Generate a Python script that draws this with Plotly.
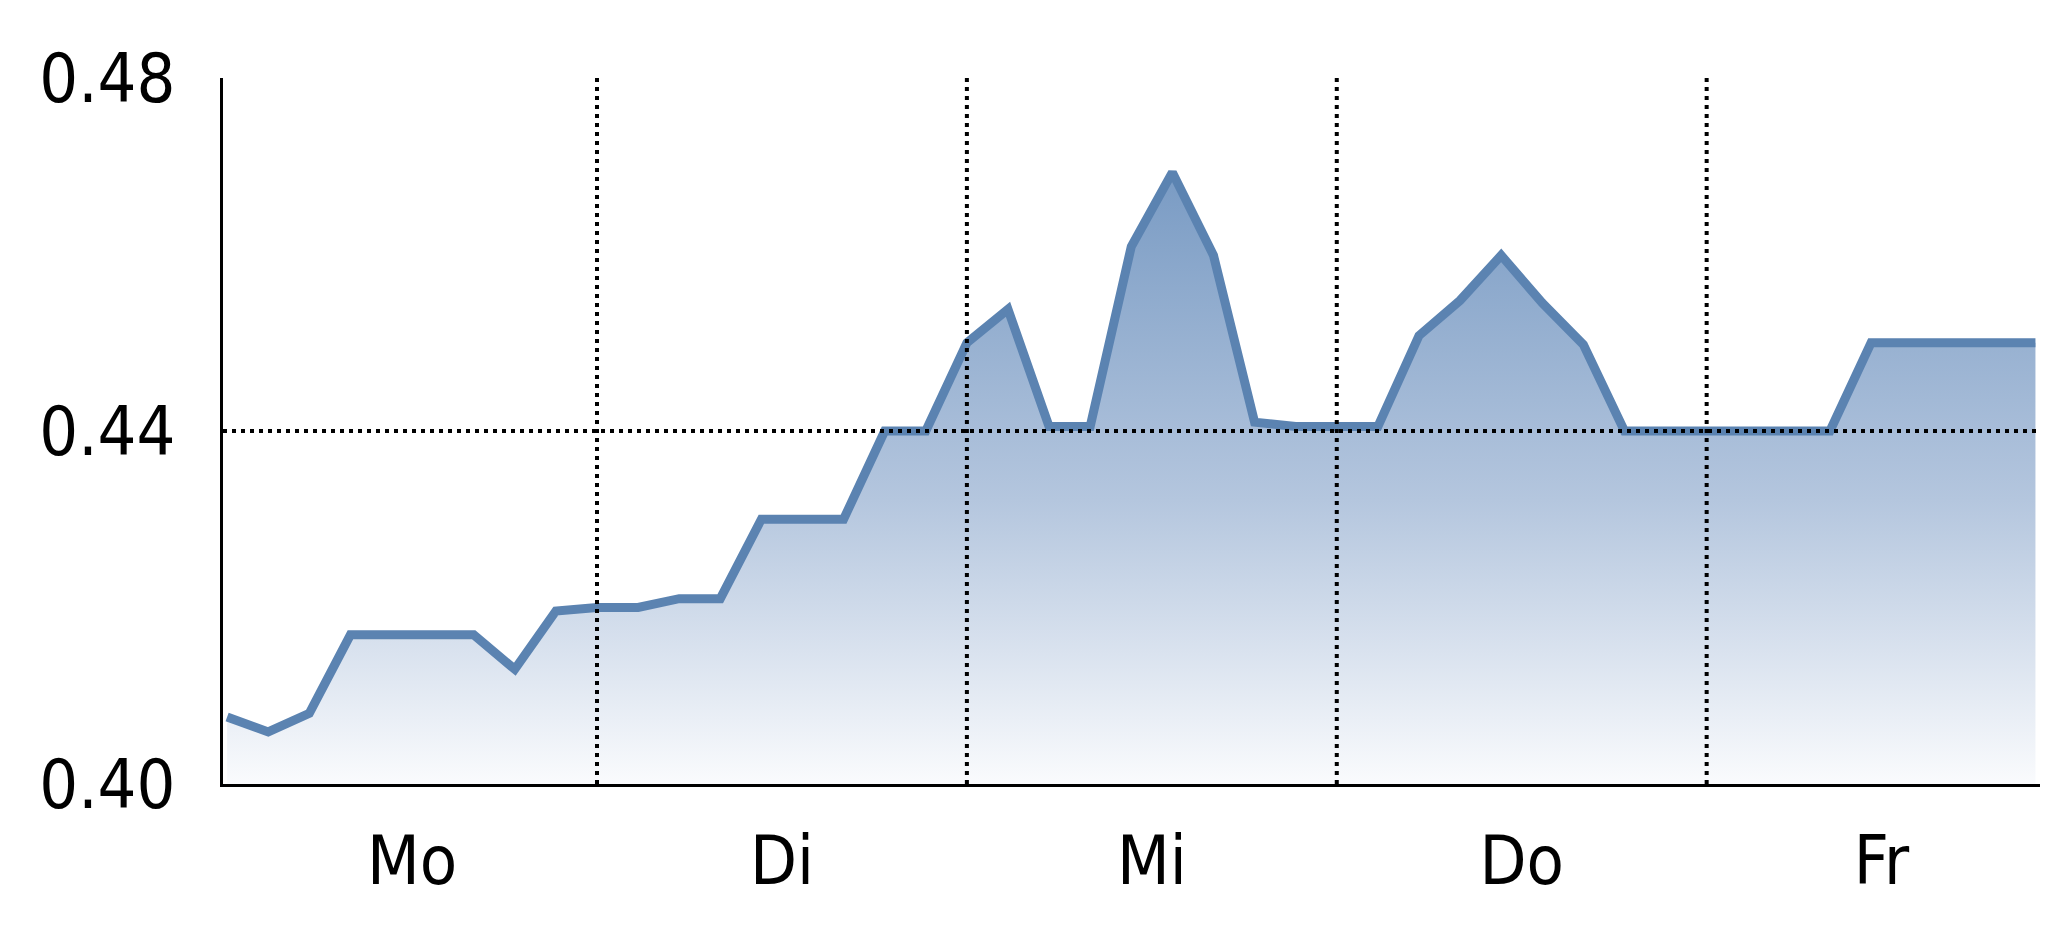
import plotly.graph_objects as go

DAYS = ["Mo", "Di", "Mi", "Do", "Fr"]
POINTS_PER_DAY = 9

# one value per step (9 per day)
VALUES = [
    0.4076, 0.4059, 0.4080, 0.4169, 0.4169, 0.4169, 0.4169, 0.4130, 0.4196,
    0.4200, 0.4200, 0.4210, 0.4210, 0.4300, 0.4300, 0.4300, 0.4400, 0.4400,
    0.4500, 0.4538, 0.4405, 0.4405, 0.4609, 0.4693, 0.4599, 0.4410, 0.4405,
    0.4405, 0.4405, 0.4508, 0.4548, 0.4599, 0.4545, 0.4498, 0.4400, 0.4400,
    0.4400, 0.4400, 0.4400, 0.4400, 0.4500, 0.4500, 0.4500, 0.4500, 0.4500,
]
Y_TICKS = [0.40, 0.44, 0.48]

X_MIN, X_MAX = -0.1, 44.5
Y_MIN, Y_MAX = 0.40, 0.48

LINE_COLOR = "#5b83b1"
FONT = "Liberation Sans Narrow, Arial Narrow, DejaVu Sans Condensed, sans-serif"

xs = list(range(len(VALUES)))
boundaries = [i * POINTS_PER_DAY for i in range(1, len(DAYS))]

# label each day in the middle of its visible band
tick_centres = []
for i in range(len(DAYS)):
    lo = max(i * POINTS_PER_DAY, X_MIN)
    hi = min((i + 1) * POINTS_PER_DAY, X_MAX)
    tick_centres.append((lo + hi) / 2)

fig = go.Figure()
fig.add_trace(
    go.Scatter(
        x=xs,
        y=VALUES,
        mode="lines",
        line={"color": LINE_COLOR, "width": 9},
        fill="tozeroy",
        fillgradient={
            "type": "vertical",
            "start": 0.40,
            "stop": 0.47,
            "colorscale": [
                [0.0, "rgb(250,251,253)"],
                [0.46, "rgb(180,198,222)"],
                [1.0, "rgb(120,154,195)"],
            ],
        },
        showlegend=False,
    )
)

dot = "4px,5px"
for b in boundaries:
    fig.add_shape(
        type="line", xref="x", yref="paper", x0=b, x1=b, y0=0, y1=1.005,
        line={"color": "black", "width": 4, "dash": dot}, layer="above",
    )
for t in Y_TICKS[1:-1]:
    fig.add_shape(
        type="line", xref="paper", yref="y", x0=0, x1=1, y0=t, y1=t,
        line={"color": "black", "width": 4, "dash": dot}, layer="above",
    )

# page body adds an 8px offset, margins compensate for it
fig.update_layout(
    width=2048,
    height=937,
    plot_bgcolor="white",
    paper_bgcolor="white",
    margin={"l": 215, "r": 0, "t": 70, "b": 161, "autoexpand": False},
    font={"family": FONT, "size": 68, "color": "black"},
)
fig.update_xaxes(
    range=[X_MIN, X_MAX],
    tickvals=tick_centres,
    ticktext=DAYS,
    ticks="",
    showgrid=False,
    zeroline=False,
    showline=True,
    linecolor="black",
    linewidth=3,
    automargin=False,
    ticklabelstandoff=15,
)
fig.update_yaxes(
    range=[Y_MIN, Y_MAX],
    tickvals=Y_TICKS,
    ticktext=[f"{t:.2f}" for t in Y_TICKS],
    ticks="",
    showgrid=False,
    zeroline=False,
    showline=True,
    linecolor="black",
    linewidth=3,
    automargin=False,
    ticklabelstandoff=31,
)

fig.write_html("out.html")
